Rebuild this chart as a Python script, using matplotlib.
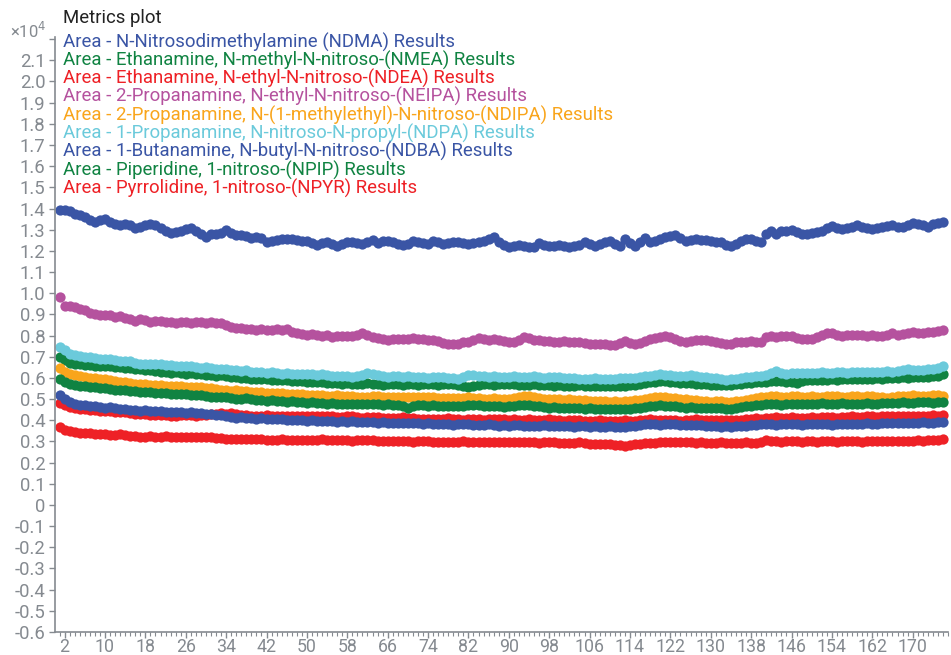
import numpy as np
import matplotlib
matplotlib.use("Agg")
import matplotlib.pyplot as plt
from matplotlib.ticker import FixedLocator, FuncFormatter, MultipleLocator

plt.rcParams['font.family'] = ['Roboto', 'DejaVu Sans']

x_index = list(range(1, 177))

ndma = [13950, 13920, 13880, 13720, 13680, 13580, 13480, 13380, 13480, 13520,
        13380, 13260, 13200, 13260, 13220, 13100, 13120, 13200, 13280, 13200,
        13100, 12950, 12820, 12870, 12950, 13050, 13100, 12950, 12800, 12650,
        12780, 12800, 12850, 12980, 12850, 12760, 12760, 12680, 12620, 12660,
        12600, 12420, 12460, 12520, 12560, 12580, 12540, 12500, 12470, 12460,
        12350, 12260, 12360, 12400, 12340, 12220, 12320, 12420, 12400, 12350,
        12320, 12420, 12520, 12350, 12480, 12450, 12400, 12320, 12260, 12340,
        12460, 12400, 12350, 12320, 12450, 12400, 12320, 12350, 12400, 12440,
        12360, 12320, 12360, 12400, 12480, 12580, 12650, 12400, 12280, 12180,
        12240, 12300, 12250, 12200, 12180, 12380, 12300, 12220, 12250, 12300,
        12250, 12200, 12220, 12300, 12420, 12320, 12230, 12330, 12430, 12480,
        12320, 12250, 12550, 12350, 12250, 12400, 12620, 12400, 12460, 12580,
        12650, 12720, 12760, 12620, 12480, 12500, 12540, 12500, 12500, 12460,
        12440, 12400, 12300, 12220, 12340, 12480, 12540, 12580, 12480, 12400,
        12800, 12950, 12800, 12950, 12960, 12980, 12870, 12800, 12800, 12850,
        12900, 12960, 13080, 13180, 13100, 13020, 13060, 13150, 13200, 13150,
        13100, 13030, 13100, 13150, 13160, 13200, 13150, 13120, 13200, 13300,
        13260, 13200, 13120, 13250, 13320, 13350]

nmea = [7000, 6850, 6700, 6680, 6650, 6620, 6600, 6580, 6570, 6560,
        6550, 6530, 6500, 6480, 6450, 6420, 6400, 6380, 6350, 6330,
        6300, 6280, 6250, 6260, 6230, 6200, 6220, 6200, 6170, 6150,
        6120, 6100, 6120, 6080, 6050, 6020, 6000, 5980, 5970, 5950,
        5950, 5930, 5920, 5900, 5900, 5880, 5870, 5860, 5850, 5830,
        5820, 5800, 5800, 5780, 5750, 5760, 5730, 5750, 5720, 5700,
        5720, 5750, 5730, 5700, 5680, 5700, 5720, 5700, 5680, 5700,
        5700, 5680, 5700, 5720, 5700, 5680, 5700, 5720, 5700, 5650,
        5600, 5570, 5600, 5680, 5720, 5700, 5680, 5690, 5700, 5720,
        5700, 5680, 5650, 5670, 5700, 5680, 5660, 5650, 5640, 5650,
        5620, 5640, 5630, 5650, 5640, 5620, 5630, 5620, 5600, 5630,
        5620, 5600, 5630, 5650, 5680, 5720, 5750, 5800, 5830, 5870,
        5850, 5830, 5800, 5780, 5770, 5750, 5730, 5720, 5700, 5680,
        5680, 5670, 5660, 5680, 5700, 5720, 5750, 5780, 5800, 5820,
        5830, 5850, 5870, 5850, 5830, 5800, 5760, 5850, 5880, 5890,
        5900, 5920, 5910, 5930, 5920, 5940, 5930, 5950, 5940, 5960,
        5950, 5960, 5980, 5970, 6000, 5990, 6000, 6020, 6010, 6050,
        6030, 6050, 6060, 6080, 6100, 6200]

ndea = [4800, 4700, 4620, 4580, 4550, 4520, 4500, 4480, 4450, 4430,
        4420, 4400, 4380, 4370, 4350, 4300, 4280, 4300, 4270, 4250,
        4230, 4250, 4220, 4200, 4230, 4250, 4230, 4220, 4250, 4260,
        4280, 4300, 4320, 4300, 4350, 4300, 4250, 4230, 4200, 4220,
        4200, 4230, 4220, 4200, 4180, 4200, 4220, 4200, 4180, 4200,
        4220, 4200, 4190, 4200, 4180, 4150, 4170, 4200, 4180, 4150,
        4130, 4150, 4170, 4150, 4130, 4100, 4120, 4100, 4150, 4120,
        4100, 4080, 4050, 4080, 4060, 4050, 4080, 4100, 4070, 4050,
        4030, 4050, 4060, 4040, 4020, 4050, 4080, 4060, 4040, 4020,
        4050, 4030, 4020, 4050, 4030, 4000, 4020, 4050, 4030, 4000,
        3980, 4000, 4020, 4000, 3980, 3960, 3980, 4000, 3970, 3950,
        3960, 3980, 4000, 3980, 3970, 4000, 4020, 4050, 4030, 4010,
        4000, 4020, 4000, 3980, 4000, 4030, 4050, 4020, 4000, 3990,
        4000, 4020, 4010, 3990, 4000, 4020, 4050, 4070, 4100, 4080,
        4100, 4120, 4150, 4130, 4120, 4140, 4120, 4100, 4130, 4150,
        4130, 4150, 4170, 4150, 4130, 4150, 4170, 4180, 4150, 4160,
        4180, 4200, 4170, 4190, 4200, 4180, 4200, 4220, 4200, 4180,
        4200, 4220, 4210, 4230, 4220, 4250]

neipa = [9800, 9400, 9400, 9350, 9250, 9200, 9080, 9020, 8980, 8950,
         8950, 8900, 8920, 8820, 8760, 8680, 8780, 8740, 8640, 8680,
         8700, 8650, 8620, 8600, 8650, 8620, 8600, 8650, 8620, 8600,
         8620, 8600, 8580, 8520, 8400, 8340, 8350, 8300, 8320, 8280,
         8300, 8250, 8280, 8300, 8280, 8300, 8150, 8100, 8060, 8050,
         8080, 8050, 8000, 8020, 7950, 7980, 8000, 7970, 8000, 8050,
         8100, 8050, 7950, 7900, 7850, 7800, 7820, 7850, 7820, 7850,
         7880, 7850, 7820, 7800, 7780, 7720, 7660, 7620, 7600, 7620,
         7680, 7700, 7780, 7880, 7860, 7800, 7820, 7800, 7720, 7680,
         7680, 7780, 7950, 7880, 7800, 7780, 7750, 7720, 7700, 7700,
         7720, 7680, 7700, 7700, 7650, 7620, 7600, 7580, 7600, 7560,
         7560, 7650, 7760, 7640, 7600, 7650, 7760, 7850, 7900, 7950,
         8000, 7950, 7850, 7760, 7700, 7750, 7780, 7800, 7800, 7750,
         7700, 7650, 7600, 7620, 7680, 7700, 7700, 7720, 7680, 7700,
         7920, 7980, 7950, 7980, 8000, 7980, 7900, 7850, 7820, 7850,
         7950, 8050, 8100, 8100, 8050, 8000, 8020, 8050, 8050, 8050,
         8000, 8020, 7980, 7970, 8050, 8100, 8050, 8080, 8100, 8150,
         8100, 8100, 8150, 8180, 8220, 8250]

ndipa = [6450, 6300, 6200, 6150, 6100, 6050, 6000, 5980, 5950, 5930,
         5900, 5850, 5820, 5800, 5780, 5720, 5700, 5720, 5680, 5650,
         5650, 5630, 5620, 5600, 5620, 5580, 5550, 5560, 5550, 5530,
         5500, 5480, 5450, 5430, 5400, 5420, 5400, 5380, 5350, 5330,
         5320, 5300, 5280, 5300, 5270, 5250, 5230, 5250, 5220, 5200,
         5200, 5180, 5170, 5150, 5150, 5170, 5150, 5130, 5150, 5120,
         5100, 5120, 5150, 5130, 5100, 5080, 5100, 5120, 5100, 5080,
         5080, 5100, 5120, 5100, 5080, 5060, 5050, 5070, 5050, 5030,
         5050, 5080, 5060, 5040, 5020, 5000, 5030, 5020, 5000, 5020,
         5050, 5100, 5150, 5130, 5080, 5050, 5020, 5000, 5020, 5000,
         4980, 5000, 4980, 4970, 4950, 4930, 4900, 4920, 4900, 4880,
         4900, 4880, 4900, 4920, 4950, 4980, 5000, 5050, 5080, 5100,
         5080, 5060, 5050, 5020, 5000, 4980, 4950, 4930, 4900, 4880,
         4900, 4920, 4880, 4850, 4900, 4930, 4950, 5000, 5050, 5100,
         5120, 5150, 5130, 5100, 5120, 5150, 5130, 5100, 5120, 5130,
         5100, 5120, 5130, 5150, 5130, 5100, 5120, 5150, 5140, 5120,
         5130, 5150, 5120, 5100, 5060, 5120, 5150, 5130, 5150, 5170,
         5150, 5130, 5150, 5180, 5200, 5150]

ndpa = [7450, 7300, 7150, 7100, 7050, 7000, 6980, 6950, 6900, 6880,
        6900, 6850, 6820, 6800, 6780, 6720, 6680, 6650, 6680, 6650,
        6640, 6620, 6600, 6580, 6560, 6550, 6580, 6520, 6480, 6500,
        6450, 6420, 6400, 6420, 6380, 6350, 6330, 6350, 6300, 6280,
        6300, 6250, 6270, 6250, 6200, 6220, 6180, 6170, 6200, 6180,
        6170, 6150, 6180, 6120, 6100, 6080, 6100, 6080, 6050, 6100,
        6150, 6250, 6200, 6150, 6080, 6050, 6080, 6100, 6050, 6080,
        6050, 6020, 6050, 6000, 6020, 6050, 6030, 6000, 5980, 5950,
        6050, 6150, 6120, 6100, 6080, 6050, 6080, 6050, 6020, 6050,
        6080, 6050, 6020, 6050, 6080, 6050, 6000, 6020, 6050, 6030,
        6000, 5980, 6000, 5970, 5950, 5970, 5980, 5950, 5940, 5960,
        5950, 5980, 6000, 5980, 6000, 6050, 6080, 6100, 6150, 6170,
        6150, 6120, 6100, 6080, 6100, 6120, 6100, 6050, 6020, 6000,
        5980, 5950, 5920, 5940, 5960, 6000, 6020, 6050, 6080, 6100,
        6150, 6250, 6330, 6250, 6200, 6230, 6250, 6220, 6250, 6230,
        6250, 6270, 6250, 6230, 6260, 6280, 6250, 6270, 6300, 6280,
        6270, 6300, 6280, 6300, 6320, 6300, 6330, 6350, 6400, 6380,
        6350, 6380, 6420, 6400, 6450, 6550]

ndba = [5200, 5000, 4850, 4750, 4720, 4700, 4680, 4650, 4620, 4600,
        4620, 4580, 4550, 4530, 4500, 4480, 4450, 4470, 4450, 4430,
        4420, 4400, 4380, 4400, 4370, 4350, 4380, 4350, 4330, 4300,
        4280, 4250, 4230, 4200, 4150, 4130, 4150, 4120, 4100, 4080,
        4100, 4080, 4050, 4070, 4050, 4020, 4000, 4030, 4000, 3980,
        4000, 3980, 3960, 3980, 3950, 3930, 3950, 3920, 3950, 3930,
        3900, 3920, 3900, 3880, 3900, 3870, 3880, 3850, 3870, 3850,
        3880, 3850, 3830, 3850, 3820, 3800, 3830, 3800, 3780, 3800,
        3820, 3800, 3780, 3760, 3780, 3800, 3770, 3750, 3770, 3750,
        3780, 3760, 3740, 3750, 3730, 3750, 3770, 3750, 3720, 3740,
        3750, 3720, 3700, 3730, 3710, 3700, 3720, 3690, 3700, 3710,
        3700, 3680, 3700, 3720, 3750, 3780, 3800, 3820, 3800, 3780,
        3800, 3820, 3800, 3780, 3770, 3790, 3780, 3760, 3750, 3740,
        3720, 3700, 3710, 3700, 3720, 3730, 3750, 3760, 3780, 3800,
        3820, 3800, 3790, 3800, 3820, 3810, 3800, 3790, 3810, 3830,
        3820, 3800, 3810, 3790, 3800, 3820, 3830, 3820, 3810, 3830,
        3850, 3840, 3830, 3850, 3870, 3860, 3850, 3880, 3870, 3860,
        3880, 3900, 3880, 3870, 3900, 3920]

npip = [5950, 5800, 5700, 5650, 5620, 5600, 5570, 5550, 5520, 5500,
        5480, 5450, 5430, 5420, 5400, 5370, 5350, 5320, 5330, 5300,
        5280, 5270, 5250, 5230, 5250, 5220, 5200, 5210, 5180, 5150,
        5120, 5100, 5080, 5100, 5050, 5020, 5000, 5030, 5000, 4980,
        4950, 4930, 4950, 4920, 4900, 4880, 4900, 4870, 4850, 4830,
        4850, 4820, 4800, 4780, 4800, 4780, 4760, 4780, 4750, 4770,
        4750, 4760, 4770, 4750, 4730, 4750, 4720, 4740, 4680, 4600,
        4660, 4720, 4700, 4680, 4700, 4690, 4670, 4650, 4670, 4650,
        4680, 4700, 4720, 4700, 4680, 4650, 4670, 4650, 4630, 4650,
        4680, 4700, 4720, 4700, 4680, 4650, 4620, 4600, 4620, 4600,
        4580, 4600, 4580, 4570, 4550, 4560, 4550, 4530, 4520, 4540,
        4550, 4530, 4520, 4540, 4580, 4600, 4620, 4650, 4680, 4700,
        4680, 4670, 4650, 4620, 4600, 4610, 4600, 4580, 4570, 4560,
        4580, 4560, 4550, 4530, 4580, 4620, 4650, 4680, 4700, 4720,
        4750, 4780, 4760, 4740, 4750, 4770, 4750, 4780, 4760, 4750,
        4770, 4800, 4780, 4760, 4780, 4800, 4780, 4750, 4770, 4790,
        4800, 4780, 4790, 4800, 4820, 4800, 4820, 4850, 4830, 4820,
        4850, 4870, 4850, 4830, 4860, 4880]

npyr = [3700, 3550, 3480, 3430, 3400, 3420, 3380, 3350, 3370, 3340,
        3320, 3300, 3330, 3310, 3280, 3250, 3200, 3230, 3250, 3220,
        3230, 3250, 3230, 3220, 3210, 3230, 3220, 3200, 3210, 3190,
        3200, 3180, 3150, 3130, 3120, 3100, 3130, 3110, 3100, 3120,
        3100, 3080, 3050, 3080, 3100, 3080, 3060, 3050, 3070, 3060,
        3050, 3080, 3100, 3070, 3060, 3050, 3070, 3050, 3030, 3050,
        3060, 3080, 3050, 3030, 3020, 3000, 3020, 3040, 3010, 3000,
        2980, 3000, 3020, 3000, 2980, 2970, 2990, 2980, 2960, 2980,
        3000, 2980, 2960, 2950, 2970, 2990, 2980, 2960, 2950, 2970,
        2980, 2960, 2950, 2970, 2960, 2940, 2950, 2970, 2950, 2930,
        2920, 2940, 2930, 2950, 2920, 2900, 2880, 2900, 2890, 2870,
        2850, 2820, 2800, 2850, 2880, 2900, 2920, 2930, 2920, 2950,
        2960, 2950, 2970, 2980, 2960, 2950, 2940, 2950, 2930, 2920,
        2940, 2950, 2930, 2910, 2920, 2940, 2950, 2930, 2920, 2950,
        3050, 3020, 3000, 2980, 3000, 3020, 3000, 2990, 3010, 3000,
        2990, 3000, 3020, 3000, 2980, 3000, 3020, 3010, 3000, 2990,
        3000, 3020, 3030, 3010, 3000, 3020, 3040, 3030, 3020, 3040,
        3050, 3030, 3060, 3050, 3080, 3100]

series_labels = [
    "Area - N-Nitrosodimethylamine (NDMA) Results",
    "Area - Ethanamine, N-methyl-N-nitroso-(NMEA) Results",
    "Area - Ethanamine, N-ethyl-N-nitroso-(NDEA) Results",
    "Area - 2-Propanamine, N-ethyl-N-nitroso-(NEIPA) Results",
    "Area - 2-Propanamine, N-(1-methylethyl)-N-nitroso-(NDIPA) Results",
    "Area - 1-Propanamine, N-nitroso-N-propyl-(NDPA) Results",
    "Area - 1-Butanamine, N-butyl-N-nitroso-(NDBA) Results",
    "Area - Piperidine, 1-nitroso-(NPIP) Results",
    "Area - Pyrrolidine, 1-nitroso-(NPYR) Results",
]
series_values = [ndma, nmea, ndea, neipa, ndipa, ndpa, ndba, npip, npyr]

BLUE = "#3A55A5"
GREEN = "#108342"
RED = "#EE2126"
PURPLE = "#B5529E"
ORANGE = "#F9A51C"
CYAN = "#6BCADB"
series_colors = [BLUE, GREEN, RED, PURPLE, ORANGE, CYAN, BLUE, GREEN, RED]

W, H = 951, 655
fig = plt.figure(figsize=(W / 100, H / 100), dpi=100)
ax = fig.add_axes([55 / W, 1 - 632 / H, (948 - 55) / W, (632 - 37) / H])

for vals, col in zip(series_values, series_colors):
    ax.plot(x_index, vals, linestyle="none", marker="o", markersize=7.4,
            markeredgewidth=0, color=col)

ax.set_xlim(0.1, 177)
ax.set_ylim(-6000, 22100)

grey = "#858a90"
ax.xaxis.set_major_locator(FixedLocator(list(range(2, 177, 8))))
ax.xaxis.set_minor_locator(MultipleLocator(1))
ax.yaxis.set_major_locator(FixedLocator(list(range(-6000, 22001, 1000))))

def yfmt(v, pos):
    if abs(v - 22000) < 1:
        return ""
    if abs(v) < 1:
        return "0"
    return f"{v / 10000:.1f}"

ax.yaxis.set_major_formatter(FuncFormatter(yfmt))
ax.tick_params(axis="both", which="major", colors=grey, labelcolor=grey,
               labelsize=13.3, length=4, width=1)
ax.tick_params(axis="x", which="minor", colors=grey, length=3, width=0.8)
ax.tick_params(axis="x", which="major", pad=0.5, labelsize=12.8)
ax.tick_params(axis="y", which="major", pad=3)
for s in ["top", "right"]:
    ax.spines[s].set_visible(False)
for s in ["left", "bottom"]:
    ax.spines[s].set_color(grey)
    ax.spines[s].set_linewidth(1.2)

fig.text(10 / W, 1 - 31 / H, "×10$^4$", color=grey, fontsize=12,
         ha="left", va="center")
fig.text(63 / W, 1 - 18 / H, "Metrics plot", color="#222222", fontsize=13.4,
         ha="left", va="center")
for i, (lab, col) in enumerate(zip(series_labels, series_colors)):
    fig.text(63 / W, 1 - (42 + i * 18.3) / H, lab, color=col, fontsize=13.4,
             ha="left", va="center")

fig.savefig("out.png", dpi=100)
